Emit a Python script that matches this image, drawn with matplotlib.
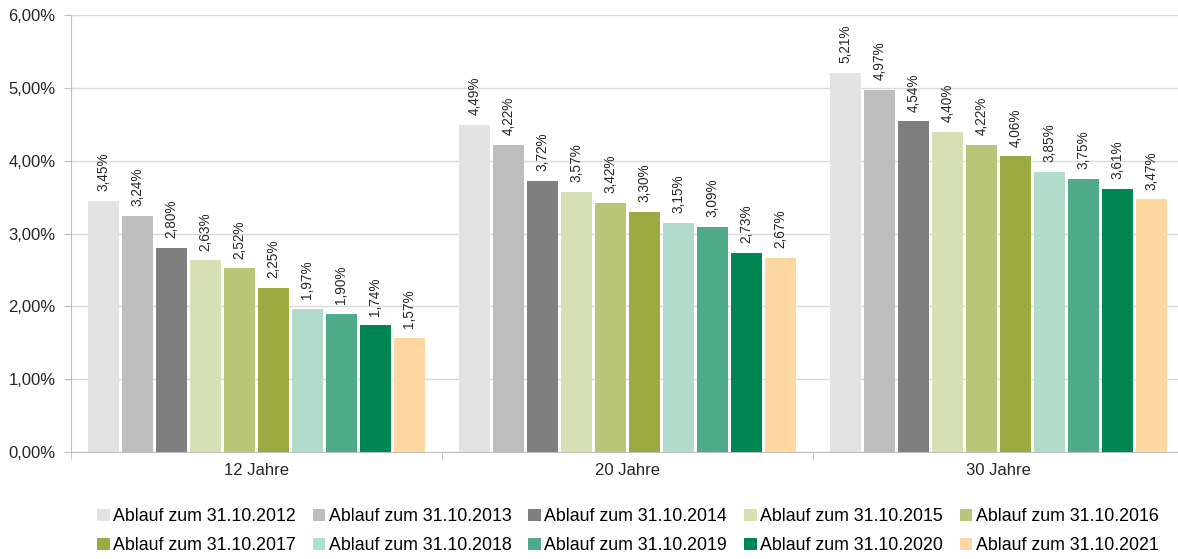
import numpy as np
import matplotlib
matplotlib.use("Agg")
import matplotlib.pyplot as plt
from matplotlib.patches import Patch
from matplotlib.ticker import FixedLocator, FuncFormatter

plt.rcParams['font.family'] = ['Liberation Sans', 'DejaVu Sans']

categories = ["12 Jahre", "20 Jahre", "30 Jahre"]
series_labels = [
    "Ablauf zum 31.10.2012", "Ablauf zum 31.10.2013", "Ablauf zum 31.10.2014",
    "Ablauf zum 31.10.2015", "Ablauf zum 31.10.2016", "Ablauf zum 31.10.2017",
    "Ablauf zum 31.10.2018", "Ablauf zum 31.10.2019", "Ablauf zum 31.10.2020",
    "Ablauf zum 31.10.2021",
]
colors = ["#e3e3e3", "#bdbdbd", "#7f7f7f", "#d7e0b4", "#b9c67a",
          "#9caa41", "#b1dccc", "#4eaa87", "#008653", "#ffd7a0"]

# yields in percent, one list per maturity
values_12 = [3.45, 3.24, 2.80, 2.63, 2.52, 2.25, 1.97, 1.90, 1.74, 1.57]
values_20 = [4.49, 4.22, 3.72, 3.57, 3.42, 3.30, 3.15, 3.09, 2.73, 2.67]
values_30 = [5.21, 4.97, 4.54, 4.40, 4.22, 4.06, 3.85, 3.75, 3.61, 3.47]
y_ticks = [0, 1, 2, 3, 4, 5, 6]

data = np.array([values_12, values_20, values_30])

fig = plt.figure(figsize=(11.78, 5.59), dpi=100)
ax = fig.add_axes([71 / 1178, 107 / 559, 1113 / 1178, 437 / 559])

n = len(series_labels)
pitch = 34 / 371
width = 31 / 371
centers = np.arange(len(categories)) + 0.5

for i in range(n):
    xs = centers + (i - (n - 1) / 2) * pitch
    bars = ax.bar(xs, data[:, i], width=width, color=colors[i], zorder=3)
    for b, v in zip(bars, data[:, i]):
        ax.annotate(f"{v:.2f}%".replace(".", ","),
                    (b.get_x() + b.get_width() / 2, v),
                    xytext=(0, 7), textcoords="offset points",
                    rotation=90, ha="center", va="bottom",
                    fontsize=9.8, color="#262626")

ax.set_xlim(0, 3)
ax.set_ylim(0, 6)
ax.yaxis.set_major_locator(FixedLocator(y_ticks))
ax.yaxis.set_major_formatter(FuncFormatter(lambda v, p: f"{v:.2f}%".replace(".", ",")))
ax.grid(axis="y", color="#d9d9d9", linewidth=1, zorder=0)

ax.set_xticks(centers)
ax.set_xticklabels(categories)
ax.set_xticks([0, 1, 2, 3], minor=True)
ax.tick_params(axis="x", which="major", length=0, pad=8, labelsize=12, colors="#262626")
ax.tick_params(axis="x", which="minor", length=5, color="#bfbfbf")
ax.tick_params(axis="y", length=5, pad=6, labelsize=12, color="#bfbfbf", labelcolor="#262626")

for side in ["top", "right"]:
    ax.spines[side].set_visible(False)
ax.spines["left"].set_color("#bfbfbf")
ax.spines["bottom"].set_color("#bfbfbf")

handles = [Patch(facecolor=c, edgecolor="none") for c in colors]
# rows are filled left to right: reorder for column-major legend layout
order = []
for col in range(5):
    order += [col, col + 5]
fig.legend([handles[k] for k in order], [series_labels[k] for k in order],
           ncol=5, loc="center", bbox_to_anchor=(0.533, 1 - 531 / 559),
           frameon=False, fontsize=12.8, handlelength=0.7, handleheight=0.7,
           handletextpad=0.2, columnspacing=0.95, labelspacing=0.68)

fig.savefig("out.png", dpi=100)
